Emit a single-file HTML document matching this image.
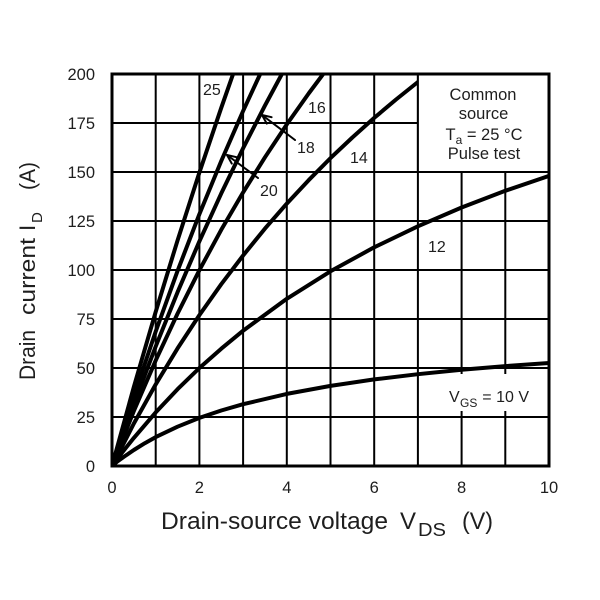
<!DOCTYPE html>
<html>
<head>
<meta charset="utf-8">
<style>
  html, body { margin: 0; padding: 0; background: #ffffff; }
  svg { display: block; }
  text { font-family: "Liberation Sans", Arial, sans-serif; fill: #1e1e1e; }
</style>
</head>
<body>
<svg width="600" height="600" viewBox="0 0 600 600" xmlns="http://www.w3.org/2000/svg">
  <rect x="0" y="0" width="600" height="600" fill="#ffffff"/>
  <defs>
    <clipPath id="plot">
      <rect x="112" y="74" width="437" height="392"/>
    </clipPath>
  </defs>

  <!-- grid -->
  <g stroke="#000" stroke-width="2" fill="none">
    <line x1="155.7" y1="74" x2="155.7" y2="466"/>
    <line x1="199.4" y1="74" x2="199.4" y2="466"/>
    <line x1="243.1" y1="74" x2="243.1" y2="466"/>
    <line x1="286.8" y1="74" x2="286.8" y2="466"/>
    <line x1="330.5" y1="74" x2="330.5" y2="466"/>
    <line x1="374.2" y1="74" x2="374.2" y2="466"/>
    <line x1="417.9" y1="74" x2="417.9" y2="466"/>
    <line x1="461.6" y1="74" x2="461.6" y2="466"/>
    <line x1="505.3" y1="74" x2="505.3" y2="466"/>
    <line x1="112" y1="417" x2="549" y2="417"/>
    <line x1="112" y1="368" x2="549" y2="368"/>
    <line x1="112" y1="319" x2="549" y2="319"/>
    <line x1="112" y1="270" x2="549" y2="270"/>
    <line x1="112" y1="221" x2="549" y2="221"/>
    <line x1="112" y1="172" x2="549" y2="172"/>
    <line x1="112" y1="123" x2="549" y2="123"/>
  </g>

  <!-- white background behind VGS label -->
  <rect x="442" y="374" width="98" height="37" fill="#ffffff"/>

  <!-- curves -->
  <g clip-path="url(#plot)" stroke="#000" stroke-width="4" fill="none" stroke-linejoin="round" stroke-linecap="round">
    <polyline points="112,466 133.85,386.9 155.7,311.8 177.55,240.4 199.4,172.5 221.25,107.8 233.1,74 235,67"/>
    <polyline points="112,466 133.85,396.3 155.7,331.5 177.55,270.9 199.4,214.1 221.25,161.0 243.1,111.0 260.2,74 263,68"/>
    <polyline points="112,466 133.85,404.2 155.7,346.4 177.55,292.2 199.4,241.3 221.25,193.4 243.1,148.2 264.95,105.6 281.9,74 285,68"/>
    <polyline points="112,466 133.85,411.0 155.7,360.4 177.55,313.6 199.4,270.2 221.25,229.8 243.1,192.4 264.95,157.3 286.8,124.4 308.65,93.5 323.2,74 327,69"/>
    <polyline points="112,466 122.9,445 133.85,423.5 155.7,384.4 177.55,348.4 199.4,315.1 221.25,284.2 243.1,255.5 264.95,228.6 286.8,203.6 308.65,180.2 330.5,158.1 352.35,137.5 374.2,117.9 396.05,99.5 417.9,82.0 422.3,78.7"/>
    <polyline points="112,466 122.9,451.6 133.85,437.9 155.7,412.4 177.55,389.2 199.4,368.0 221.25,348.7 243.1,330.7 286.8,298.8 330.5,271.3 374.2,247.3 417.9,226.3 461.6,207.5 505.3,190.8 549,175.9"/>
    <polyline points="112,466 117.5,461.4 122.9,457.5 133.85,450.0 144.8,443.2 155.7,437.1 177.55,426.7 199.4,417.9 221.25,410.5 243.1,404.2 286.8,393.9 330.5,385.9 374.2,379.4 417.9,374.2 461.6,369.8 505.3,366.1 549,363.0"/>
  </g>

  <!-- legend box -->
  <rect x="417.9" y="74" width="131.1" height="98" fill="#ffffff" stroke="#000" stroke-width="2"/>

  <!-- plot border -->
  <rect x="112" y="74" width="437" height="392" fill="none" stroke="#000" stroke-width="3"/>

  <!-- arrows -->
  <g stroke="#000" stroke-width="2" fill="none" stroke-linecap="round" stroke-linejoin="round">
    <line x1="295" y1="140" x2="262" y2="115"/>
    <polyline points="271.6,117.2 262,115 266.8,123.6"/>
    <line x1="258" y1="178" x2="227" y2="155"/>
    <polyline points="236.6,157.2 227,155 231.8,163.6"/>
  </g>

  <!-- y tick labels -->
  <g font-size="16.5" text-anchor="end">
    <text x="95" y="80">200</text>
    <text x="95" y="129">175</text>
    <text x="95" y="178">150</text>
    <text x="95" y="227">125</text>
    <text x="95" y="276">100</text>
    <text x="95" y="325">75</text>
    <text x="95" y="374">50</text>
    <text x="95" y="423">25</text>
    <text x="95" y="472">0</text>
  </g>

  <!-- x tick labels -->
  <g font-size="16.5" text-anchor="middle">
    <text x="112" y="493">0</text>
    <text x="199.4" y="493">2</text>
    <text x="286.8" y="493">4</text>
    <text x="374.2" y="493">6</text>
    <text x="461.6" y="493">8</text>
    <text x="549" y="493">10</text>
  </g>

  <!-- x axis title -->
  <g font-size="24">
    <text x="161" y="529" textLength="227" lengthAdjust="spacingAndGlyphs">Drain-source voltage</text>
    <text x="400" y="529">V</text>
    <text x="418" y="536" font-size="18" textLength="28" lengthAdjust="spacingAndGlyphs">DS</text>
    <text x="462" y="529" textLength="31" lengthAdjust="spacingAndGlyphs">(V)</text>
  </g>

  <!-- y axis title -->
  <g transform="translate(35,380) rotate(-90)" font-size="22.5">
    <text x="0" y="0" textLength="50" lengthAdjust="spacingAndGlyphs">Drain</text>
    <text x="65" y="0" textLength="77" lengthAdjust="spacingAndGlyphs">current</text>
    <text x="149" y="0">I</text>
    <text x="157" y="7" font-size="15">D</text>
    <text x="190" y="0" textLength="28" lengthAdjust="spacingAndGlyphs">(A)</text>
  </g>

  <!-- legend text -->
  <g font-size="16.5" text-anchor="middle">
    <text x="483" y="100">Common</text>
    <text x="483.5" y="119">source</text>
    <text x="484" y="140">T<tspan font-size="12" dy="4">a</tspan><tspan dy="-4"> = 25 °C</tspan></text>
    <text x="484" y="159">Pulse test</text>
  </g>

  <!-- curve labels -->
  <g font-size="16">
    <text x="203" y="95">25</text>
    <text x="308" y="113">16</text>
    <text x="297" y="153">18</text>
    <text x="260" y="196">20</text>
    <text x="350" y="163">14</text>
    <text x="428" y="252">12</text>
    <text x="449" y="402">V</text>
    <text x="460" y="407" font-size="12">GS</text>
    <text x="529" y="402" text-anchor="end">= 10 V</text>
  </g>
</svg>
</body>
</html>
